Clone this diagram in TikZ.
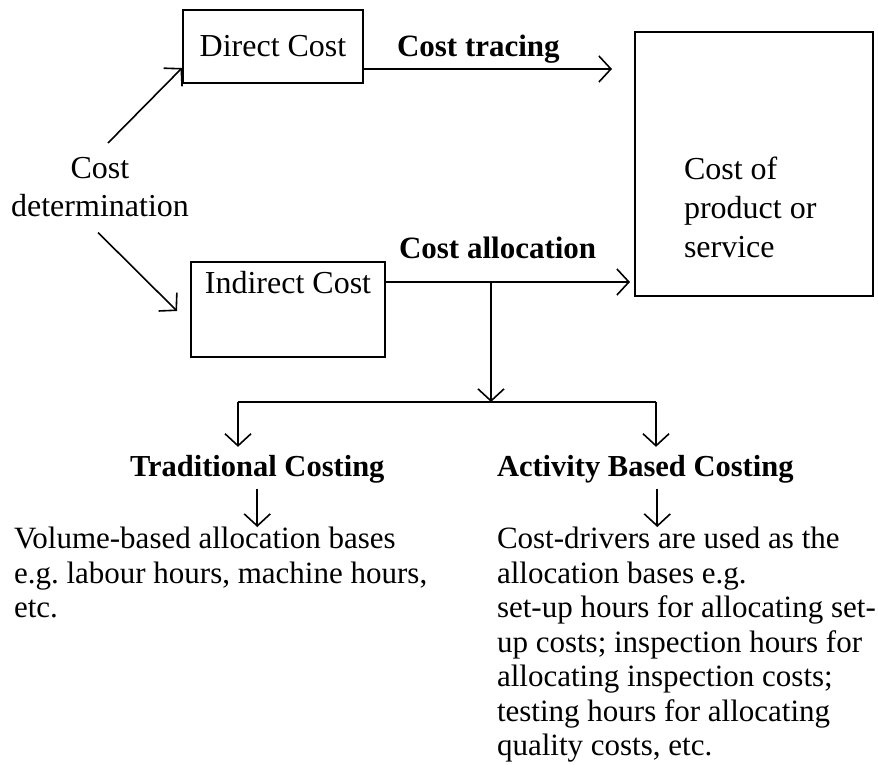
\documentclass[tikz,border=0pt]{standalone}
\usepackage{fontspec}
\setmainfont{Liberation Serif}
\usetikzlibrary{arrows.meta,calc}
\frenchspacing
\begin{document}
\begin{tikzpicture}[x=1pt,y=-1pt,line width=1.6pt,
  every node/.style={inner sep=0pt,outer sep=0pt},
  box/.style={draw,line width=1.6pt},
  arr/.style={-{Straight Barb[length=12pt,width=26pt,line width=1.6pt]}},
  big/.style={font=\fontsize{32}{38}\selectfont},
  lbl/.style={font=\fontsize{31}{36}\selectfont\bfseries},
  sublbl/.style={font=\fontsize{30.5}{36}\selectfont\bfseries},
  body/.style={font=\fontsize{31}{34.5}\selectfont,align=left}]
\useasboundingbox (0,0) rectangle (878,765);
% boxes
\node[box,big,minimum width=180pt,minimum height=73pt] (dc) at (273,46.5) {Direct Cost};
\node[box,minimum width=194pt,minimum height=95pt,anchor=north west] (ic) at (191,262) {};
\node[big,anchor=base] (ict) at (288,293) {Indirect Cost};
\node[box,minimum width=238pt,minimum height=264pt,anchor=north west] (rb) at (635,32) {};
\node[big,align=left,anchor=north west,font=\fontsize{32}{39}\selectfont] (rbt) at (684,157) {Cost of\\product or\\service};
% cost determination
\node[big,align=center,anchor=north] (cd) at (100,157) {Cost\\determination};
\draw[arr] ($(cd.north)+(8,-14)$) -- ($(dc.south west)+(-1,-15)$);
\draw[arr] ($(cd.south)+(-2,16)$) -- ($(ic.west)+(-14,1.5)$);
% tracing
\coordinate (t1) at ($(dc.east)+(0,22.5)$);
\coordinate (rbw1) at ($(rb.west)+(-23,0)$);
\draw[arr] (t1) -- (rbw1 |- t1);
\node[lbl,anchor=base west] (ctr) at (397,57) {Cost tracing};
% allocation
\coordinate (i1) at ($(ic.east)+(0,-27.5)$);
\coordinate (rbw2) at ($(rb.west)+(-5,0)$);
\draw[arr] (i1) -- (rbw2 |- i1);
\node[lbl,anchor=base west] (cal) at (399,258) {Cost allocation};
\coordinate (j1) at ($(i1)+(106,0)$);
\coordinate (hL) at (238,402);
\coordinate (hR) at (656,402);
\coordinate (hM) at (j1 |- hL);
\draw[arr] (j1) -- (hM);
\draw (hL) -- (hR);
% costing methods
\node[sublbl,anchor=base west] (tc) at (130,476) {Traditional Costing};
\node[sublbl,anchor=base west] (abc) at (497,476) {Activity Based Costing};
\draw[arr] (hL) -- ($(hL |- tc.north)+(0,-8)$);
\draw[arr] (hR) -- ($(hR |- abc.north)+(0,-8)$);
% bodies
\node[body,anchor=north west] (vb) at (14,527) {Volume-based allocation bases\\e.g. labour hours, machine hours,\\etc.};
\node[body,anchor=north west] (cdr) at (497,527) {Cost-drivers are used as the\\allocation bases e.g.\\set-up hours for allocating set-\\up costs; inspection hours for\\allocating inspection costs;\\testing hours for allocating\\quality costs, etc.};
\draw[arr] ($(tc.south)+(0,6)$) -- ($(vb.north -| tc.south)$);
\coordinate (a2) at ($(abc.south)+(12,6)$);
\draw[arr] (a2) -- (a2 |- cdr.north);
\end{tikzpicture}
\end{document}
